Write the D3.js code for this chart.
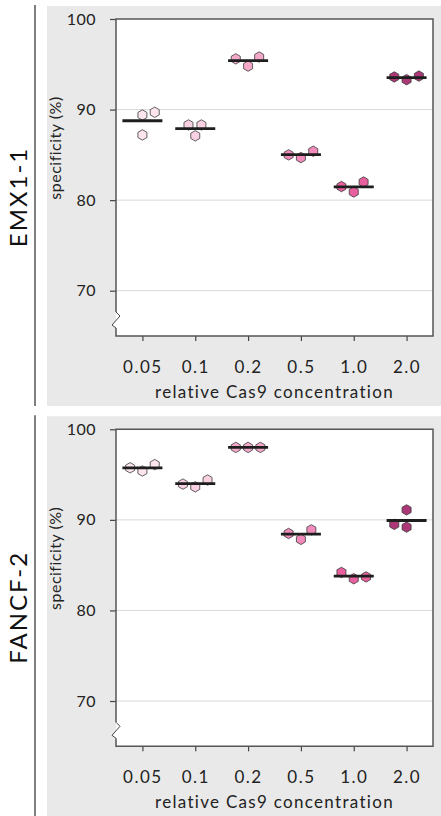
<!DOCTYPE html>
<html>
<head>
<meta charset="utf-8">
<script src="https://cdn.jsdelivr.net/npm/d3@7"></script>
<style>
  body { margin: 0; background: #fff; }
  svg { display: block; font-family: Lato, "Open Sans", sans-serif; }
</style>
</head>
<body>
<div id="chart"></div>
<script>
// concentrations on the x axis and their colours
const concentrations = ["0.05", "0.1", "0.2", "0.5", "1.0", "2.0"];
const groupColors = ["#fde5ee", "#fad1e2", "#f5a9ca", "#f08bbc", "#e8609e", "#ad3877"];
const yTicks = [70, 80, 90, 100];

// three replicates per concentration (specificity %)
const emxValues = [
  [87.2, 89.4, 89.7],
  [88.3, 88.3, 87.1],
  [95.6, 94.8, 95.8],
  [85.0, 84.7, 85.4],
  [81.5, 80.9, 82.0],
  [93.6, 93.3, 93.7]
];
// horizontal dodge slot of each replicate
const emxSlots = [
  [0, 0, 1],
  [-0.55, 0.5, 0],
  [-1, 0, 0.9],
  [-1, 0, 1],
  [-1, 0, 0.8],
  [-1, 0, 1]
];

const fancfValues = [
  [95.75, 95.4, 96.1],
  [93.95, 93.65, 94.4],
  [98.0, 98.0, 98.0],
  [88.5, 87.85, 88.9],
  [84.2, 83.5, 83.7],
  [89.5, 91.1, 89.2]
];
const fancfSlots = [
  [-1, 0, 1],
  [-1, 0, 1],
  [-1, 0, 1],
  [-1, 0, 0.85],
  [-1, 0, 1],
  [-1, 0, 0]
];

const width = 441, height = 816;
const svg = d3.select("#chart").append("svg")
  .attr("width", width)
  .attr("height", height);

const plotL = 116, plotR = 433, plotT = 19, plotB = 336;

const x = d3.scalePoint()
  .domain(concentrations)
  .range([plotL, plotR])
  .padding(0.5);

const y = d3.scaleLinear()
  .domain([65, 100])
  .range([plotB, plotT]);

// pointy-top hexagon
const hexR = 5.2;
const hexPath = d3.line()(d3.range(6).map(k => {
  const a = -Math.PI / 2 + k * Math.PI / 3;
  return [hexR * Math.cos(a), hexR * Math.sin(a)];
})) + "Z";

function drawPanel(offsetY, label, values, slots) {
  const g = svg.append("g").attr("transform", `translate(0,${offsetY})`);

  // gray panel background
  g.append("rect")
    .attr("x", 47).attr("y", 6)
    .attr("width", width - 47).attr("height", 400)
    .attr("fill", "#e8e9e8");

  // left bracket line
  g.append("line")
    .attr("x1", 35).attr("x2", 35)
    .attr("y1", 5).attr("y2", 406)
    .attr("stroke", "#555").attr("stroke-width", 1.5);

  // white plot area
  g.append("rect")
    .attr("x", plotL).attr("y", plotT)
    .attr("width", plotR - plotL).attr("height", plotB - plotT)
    .attr("fill", "#fff");

  // gridlines
  g.selectAll(".grid")
    .data(yTicks.filter(t => t < 100))
    .enter().append("line")
    .attr("x1", plotL).attr("x2", plotR)
    .attr("y1", d => y(d)).attr("y2", d => y(d))
    .attr("stroke", "#d9d9d9").attr("stroke-width", 1);

  // y axis
  const yAxis = g.append("g")
    .attr("transform", `translate(${plotL},0)`)
    .call(d3.axisLeft(y).tickValues(yTicks).tickSize(6).tickPadding(14));
  yAxis.select(".domain").remove();
  yAxis.selectAll(".tick line").attr("stroke", "#444").attr("stroke-width", 1.2);
  yAxis.selectAll(".tick text")
    .attr("font-family", "Lato, sans-serif")
    .attr("font-size", 16)
    .attr("letter-spacing", 0.5)
    .attr("fill", "#222");

  // x axis
  const xAxis = g.append("g")
    .attr("transform", `translate(0,${plotB})`)
    .call(d3.axisBottom(x).tickSize(5).tickPadding(20));
  xAxis.select(".domain").remove();
  xAxis.selectAll(".tick line").attr("stroke", "#444").attr("stroke-width", 1.2);
  xAxis.selectAll(".tick text")
    .attr("font-family", "Lato, sans-serif")
    .attr("font-size", 17)
    .attr("letter-spacing", 1.5)
    .attr("fill", "#222");

  // plot frame with axis break on the left side
  const breakTop = 312, breakBot = 328;
  g.append("path")
    .attr("d", `M${plotL},${breakBot} L${plotL},${plotB} L${plotR},${plotB} L${plotR},${plotT} L${plotL},${plotT} L${plotL},${breakTop}`)
    .attr("fill", "none")
    .attr("stroke", "#555").attr("stroke-width", 1.5);
  g.append("path")
    .attr("d", `M${plotL},${breakTop} L${plotL + 4},${breakTop + 4} L${plotL - 4},${breakTop + 13} L${plotL},${breakBot}`)
    .attr("fill", "#fff")
    .attr("stroke", "#444").attr("stroke-width", 1);

  // axis titles
  g.append("text")
    .attr("x", (plotL + plotR) / 2)
    .attr("y", 398)
    .attr("text-anchor", "middle")
    .attr("font-size", 17)
    .attr("letter-spacing", 1.3)
    .attr("fill", "#222")
    .text("relative Cas9 concentration");

  g.append("text")
    .attr("transform", "translate(61,148) rotate(-90)")
    .attr("text-anchor", "middle")
    .attr("font-size", 16)
    .attr("letter-spacing", 0.5)
    .attr("fill", "#222")
    .text("specificity (%)");

  g.append("text")
    .attr("transform", "translate(27,197) rotate(-90)")
    .attr("text-anchor", "middle")
    .attr("font-size", 24)
    .attr("letter-spacing", 2)
    .attr("fill", "#111")
    .text(label);

  // points and mean bars
  const points = [];
  values.forEach((vals, i) => {
    vals.forEach((v, j) => points.push({ c: concentrations[i], i, v, slot: slots[i][j] }));
  });
  const slotW = 12.3;

  g.selectAll(".hex")
    .data(points)
    .enter().append("path")
    .attr("d", hexPath)
    .attr("transform", d => `translate(${x(d.c) + d.slot * slotW},${y(d.v)})`)
    .attr("fill", d => groupColors[d.i])
    .attr("stroke", "#3a3a3a").attr("stroke-width", 0.8);

  g.selectAll(".mean")
    .data(values.map((vals, i) => ({ c: concentrations[i], m: d3.mean(vals) })))
    .enter().append("line")
    .attr("x1", d => x(d.c) - 20).attr("x2", d => x(d.c) + 20)
    .attr("y1", d => y(d.m)).attr("y2", d => y(d.m))
    .attr("stroke", "#1e1e1e").attr("stroke-width", 2.8);
}

drawPanel(0, "EMX1-1", emxValues, emxSlots);
drawPanel(410.3, "FANCF-2", fancfValues, fancfSlots);
</script>
</body>
</html>
